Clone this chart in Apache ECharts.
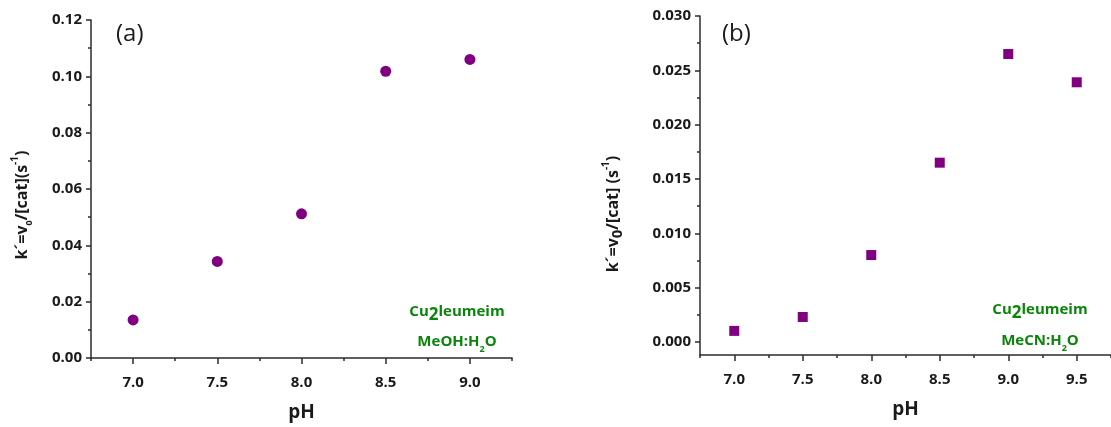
<!DOCTYPE html>
<html>
<head>
<meta charset="utf-8">
<script src="https://cdn.jsdelivr.net/npm/echarts@6/dist/echarts.min.js"></script>
<style>
  html, body { margin: 0; padding: 0; background: #fff; }
  #chart { width: 1111px; height: 427px; }
</style>
</head>
<body>
<div id="chart"></div>
<script>
// Panel (a): Cu2leumeim in MeOH:H2O
const phA = [7.0, 7.5, 8.0, 8.5, 9.0];
const kA = [0.0135, 0.0343, 0.0512, 0.1018, 0.1060];
// Panel (b): Cu2leumeim in MeCN:H2O
const phB = [7.0, 7.5, 8.0, 8.5, 9.0, 9.5];
const kB = [0.00102, 0.0023, 0.0080, 0.0165, 0.0265, 0.0239];

// Tick positions
const xMajorA = [7.0, 7.5, 8.0, 8.5, 9.0];
const xMinorA = [6.75, 7.25, 7.75, 8.25, 8.75, 9.25];
const yMajorA = [0, 0.02, 0.04, 0.06, 0.08, 0.10, 0.12];
const yMinorA = [0.01, 0.03, 0.05, 0.07, 0.09, 0.11];
const xMajorB = [7.0, 7.5, 8.0, 8.5, 9.0, 9.5];
const xMinorB = [6.75, 7.25, 7.75, 8.25, 8.75, 9.25, 9.75];
const yMajorB = [0, 0.005, 0.010, 0.015, 0.020, 0.025, 0.030];
const yMinorB = [0.0025, 0.0075, 0.0125, 0.0175, 0.0225, 0.0275];

const FONT = 'Open Sans';
const AXIS_COLOR = '#2b2b2b';
const TEXT_COLOR = '#1a1a1a';
const MARK_COLOR = '#800080';
const NOTE_COLOR = '#0a850a';

const chart = echarts.init(document.getElementById('chart'), null, { renderer: 'canvas' });

function majorX(grid, min, max, ticks) {
  return {
    type: 'value', gridIndex: grid, min: min, max: max, position: 'bottom',
    name: 'pH', nameLocation: 'middle', nameGap: 45,
    nameTextStyle: { fontFamily: FONT, fontWeight: 'bold', fontSize: 19, color: TEXT_COLOR },
    axisLine: { show: true, onZero: false, lineStyle: { color: AXIS_COLOR, width: 1.5 } },
    axisTick: { show: true, inside: false, length: 6, customValues: ticks, lineStyle: { color: AXIS_COLOR, width: 1.5 } },
    axisLabel: { show: true, customValues: ticks, margin: 17, formatter: v => v.toFixed(1),
      fontFamily: FONT, fontWeight: 'bold', fontSize: 15, color: TEXT_COLOR },
    splitLine: { show: false }
  };
}
function minorX(grid, min, max, ticks) {
  return {
    type: 'value', gridIndex: grid, min: min, max: max, position: 'bottom',
    axisLine: { show: false, onZero: false },
    axisTick: { show: true, inside: false, length: 3, customValues: ticks, lineStyle: { color: AXIS_COLOR, width: 1.5 } },
    axisLabel: { show: false },
    splitLine: { show: false }
  };
}
function majorY(grid, min, max, ticks, digits) {
  return {
    type: 'value', gridIndex: grid, min: min, max: max, position: 'left',
    axisLine: { show: true, onZero: false, lineStyle: { color: AXIS_COLOR, width: 1.5 } },
    axisTick: { show: true, inside: false, length: 5, customValues: ticks, lineStyle: { color: AXIS_COLOR, width: 1.5 } },
    axisLabel: { show: true, customValues: ticks, margin: 9, formatter: v => v.toFixed(digits),
      fontFamily: FONT, fontWeight: 'bold', fontSize: 15, color: TEXT_COLOR },
    splitLine: { show: false }
  };
}
function minorY(grid, min, max, ticks) {
  return {
    type: 'value', gridIndex: grid, min: min, max: max, position: 'left',
    axisLine: { show: false, onZero: false },
    axisTick: { show: true, inside: false, length: 3, customValues: ticks, lineStyle: { color: AXIS_COLOR, width: 1.5 } },
    axisLabel: { show: false },
    splitLine: { show: false }
  };
}

const titleRich = {
  b: { fontFamily: FONT, fontWeight: 'bold', fontSize: 16, fill: TEXT_COLOR, lineHeight: 24, verticalAlign: 'middle' },
  sub: { fontFamily: FONT, fontWeight: 'bold', fontSize: 9, fill: TEXT_COLOR, lineHeight: 10, verticalAlign: 'bottom' },
  subBig: { fontFamily: FONT, fontWeight: 'bold', fontSize: 15, fill: TEXT_COLOR, lineHeight: 16, verticalAlign: 'bottom' },
  sup: { fontFamily: FONT, fontWeight: 'bold', fontSize: 10, fill: TEXT_COLOR, lineHeight: 10, verticalAlign: 'top' }
};
const noteRich = {
  n: { fontFamily: FONT, fontWeight: 'bold', fontSize: 15, fill: NOTE_COLOR, lineHeight: 24, verticalAlign: 'middle' },
  big2: { fontFamily: FONT, fontWeight: 'bold', fontSize: 17, fill: NOTE_COLOR, lineHeight: 17, verticalAlign: 'bottom' },
  s2: { fontFamily: FONT, fontWeight: 'bold', fontSize: 9, fill: NOTE_COLOR, lineHeight: 10, verticalAlign: 'bottom' }
};

function textEl(x, y, text, rich, rotation) {
  return {
    type: 'text', x: x, y: y, rotation: rotation || 0, silent: true,
    style: { text: text, rich: rich, align: 'center', verticalAlign: 'middle' }
  };
}

const option = {
  animation: false,
  backgroundColor: '#ffffff',
  grid: [
    { left: 91, top: 20, width: 421, height: 338, containLabel: false },
    { left: 700, top: 16, width: 420, height: 339, containLabel: false }
  ],
  xAxis: [
    majorX(0, 6.75, 9.25, xMajorA),
    minorX(0, 6.75, 9.25, xMinorA),
    majorX(1, 6.75, 9.75, xMajorB),
    minorX(1, 6.75, 9.75, xMinorB)
  ],
  yAxis: [
    majorY(0, 0, 0.12, yMajorA, 2),
    minorY(0, 0, 0.12, yMinorA),
    majorY(1, -0.0012, 0.030, yMajorB, 3),
    minorY(1, -0.0012, 0.030, yMinorB)
  ],
  series: [
    {
      type: 'scatter', xAxisIndex: 0, yAxisIndex: 0,
      data: phA.map((x, i) => [x, kA[i]]),
      symbol: 'circle', symbolSize: 11,
      itemStyle: { color: MARK_COLOR, opacity: 1 }
    },
    {
      type: 'scatter', xAxisIndex: 2, yAxisIndex: 2,
      data: phB.map((x, i) => [x, kB[i]]),
      symbol: 'rect', symbolSize: 10,
      itemStyle: { color: MARK_COLOR, opacity: 1 }
    }
  ],
  graphic: [
    {
      type: 'text', x: 116, y: 34, silent: true,
      style: { text: '(a)', fontFamily: FONT, fontSize: 24, fill: TEXT_COLOR, align: 'left', verticalAlign: 'middle' }
    },
    {
      type: 'text', x: 722, y: 34, silent: true,
      style: { text: '(b)', fontFamily: FONT, fontSize: 24, fill: TEXT_COLOR, align: 'left', verticalAlign: 'middle' }
    },
    textEl(22, 205, '{b|k´=v}{sub|0}{b|/[cat](s}{sup|-1}{b|)}', titleRich, Math.PI / 2),
    textEl(613, 214, '{b|k´=v}{subBig|0}{b|/[cat] (s}{sup|-1}{b|)}', titleRich, Math.PI / 2),
    textEl(457, 312, '{n|Cu}{big2|2}{n|leumeim}', noteRich),
    textEl(457, 342, '{n|MeOH:H}{s2|2}{n|O}', noteRich),
    textEl(1040, 310, '{n|Cu}{big2|2}{n|leumeim}', noteRich),
    textEl(1040, 341, '{n|MeCN:H}{s2|2}{n|O}', noteRich)
  ]
};

chart.setOption(option);
</script>
</body>
</html>
